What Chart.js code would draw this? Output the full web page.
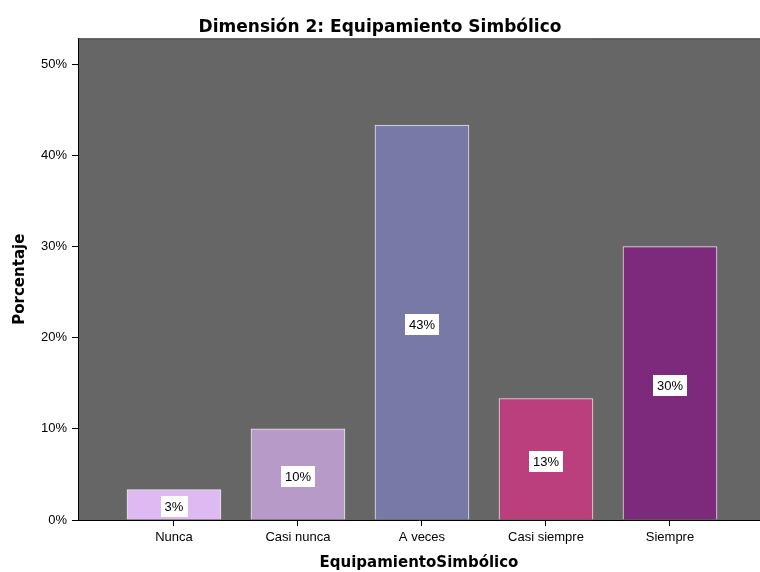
<!DOCTYPE html>
<html>
<head>
<meta charset="utf-8">
<script src="https://cdn.jsdelivr.net/npm/chart.js@4"></script>
<style>
  html, body { margin: 0; padding: 0; background: #fff; }
  #wrap { width: 760px; height: 572px; }
</style>
</head>
<body>
<div id="wrap"><canvas id="myChart"></canvas></div>
<script>
const categories = ["Nunca", "Casi nunca", "A veces", "Casi siempre", "Siempre"];
const percents = [3.33, 10.0, 43.33, 13.33, 30.0];
const valueLabels = ["3%", "10%", "43%", "13%", "30%"];
const barColors = ["#dfbaf2", "#b89ac8", "#7879a7", "#bb3f7c", "#7d297c"];
const yTicks = [0, 10, 20, 30, 40, 50];

const plotBg = {
  id: "plotBg",
  beforeDraw(chart) {
    const { ctx, chartArea: a } = chart;
    ctx.save();
    ctx.fillStyle = "#666666";
    ctx.fillRect(a.left, a.top, a.right - a.left, a.bottom - a.top);
    ctx.strokeStyle = "#4a4a4a";
    ctx.lineWidth = 1;
    ctx.beginPath();
    ctx.moveTo(a.left, a.top + 0.5);
    ctx.lineTo(a.right, a.top + 0.5);
    ctx.stroke();
    ctx.restore();
  },
};

const boxLabels = {
  id: "boxLabels",
  afterDatasetsDraw(chart) {
    const { ctx } = chart;
    const meta = chart.getDatasetMeta(0);
    ctx.save();
    ctx.font = "13px 'Liberation Sans', Arial, sans-serif";
    ctx.textAlign = "center";
    ctx.textBaseline = "middle";
    meta.data.forEach((bar, i) => {
      const txt = valueLabels[i];
      const cy = (bar.y + bar.base) / 2 + 2;
      const w = ctx.measureText(txt).width + 8;
      const h = 21;
      ctx.fillStyle = "#ffffff";
      ctx.fillRect(Math.round(bar.x - w / 2), Math.round(cy - h / 2), Math.round(w), h);
      ctx.fillStyle = "#000000";
      ctx.fillText(txt, bar.x, cy + 1);
    });
    ctx.restore();
  },
};

new Chart(document.getElementById("myChart"), {
  type: "bar",
  data: {
    datasets: [
      {
        data: percents.map((v, i) => ({ x: i, y: v })),
        backgroundColor: barColors,
        borderColor: "#e6e6e6",
        borderWidth: 1,
        borderSkipped: "bottom",
        barThickness: 94,
      },
    ],
  },
  plugins: [plotBg, boxLabels],
  options: {
    responsive: true,
    maintainAspectRatio: false,
    animation: false,
    layout: { padding: 0 },
    plugins: {
      legend: { display: false },
      tooltip: { enabled: false },
      title: {
        display: true,
        text: "Dimensión 2: Equipamiento Simbólico",
        color: "#000",
        font: { family: "'DejaVu Sans', sans-serif", size: 17, weight: "bold" },
        padding: { top: 17, bottom: 1 },
      },
    },
    scales: {
      x: {
        type: "linear",
        offset: false,
        min: -0.774,
        max: 4.726,
        afterBuildTicks: (scale) => {
          scale.ticks = categories.map((c, i) => ({ value: i }));
        },
        afterFit: (scale) => {
          scale.height = 52;
        },
        ticks: {
          color: "#000",
          padding: 4,
          font: { family: "'Liberation Sans', Arial, sans-serif", size: 13 },
          callback: (v) => categories[v],
          maxRotation: 0,
        },
        grid: { offset: false, drawOnChartArea: false, drawTicks: true, tickLength: 6, color: "#000" },
        border: { display: true, color: "#000", width: 1 },
        title: {
          display: true,
          text: "EquipamientoSimbólico",
          color: "#000",
          font: { family: "'DejaVu Sans', sans-serif", size: 15, weight: "bold" },
          padding: { top: 5, bottom: 0 },
        },
      },
      y: {
        min: 0,
        max: 52.85,
        afterBuildTicks: (scale) => {
          scale.ticks = yTicks.map((v) => ({ value: v }));
        },
        afterFit: (scale) => {
          scale.width = 78;
        },
        ticks: {
          color: "#000",
          padding: 5,
          font: { family: "'Liberation Sans', Arial, sans-serif", size: 13 },
          callback: (v) => `${v}%`,
        },
        grid: { drawOnChartArea: false, drawTicks: true, tickLength: 6, color: "#000" },
        border: { display: true, color: "#000", width: 1 },
        title: {
          display: true,
          text: "Porcentaje",
          color: "#000",
          font: { family: "'DejaVu Sans', sans-serif", size: 15, weight: "bold" },
          padding: { top: 11, bottom: 0 },
        },
      },
    },
  },
});
</script>
</body>
</html>
